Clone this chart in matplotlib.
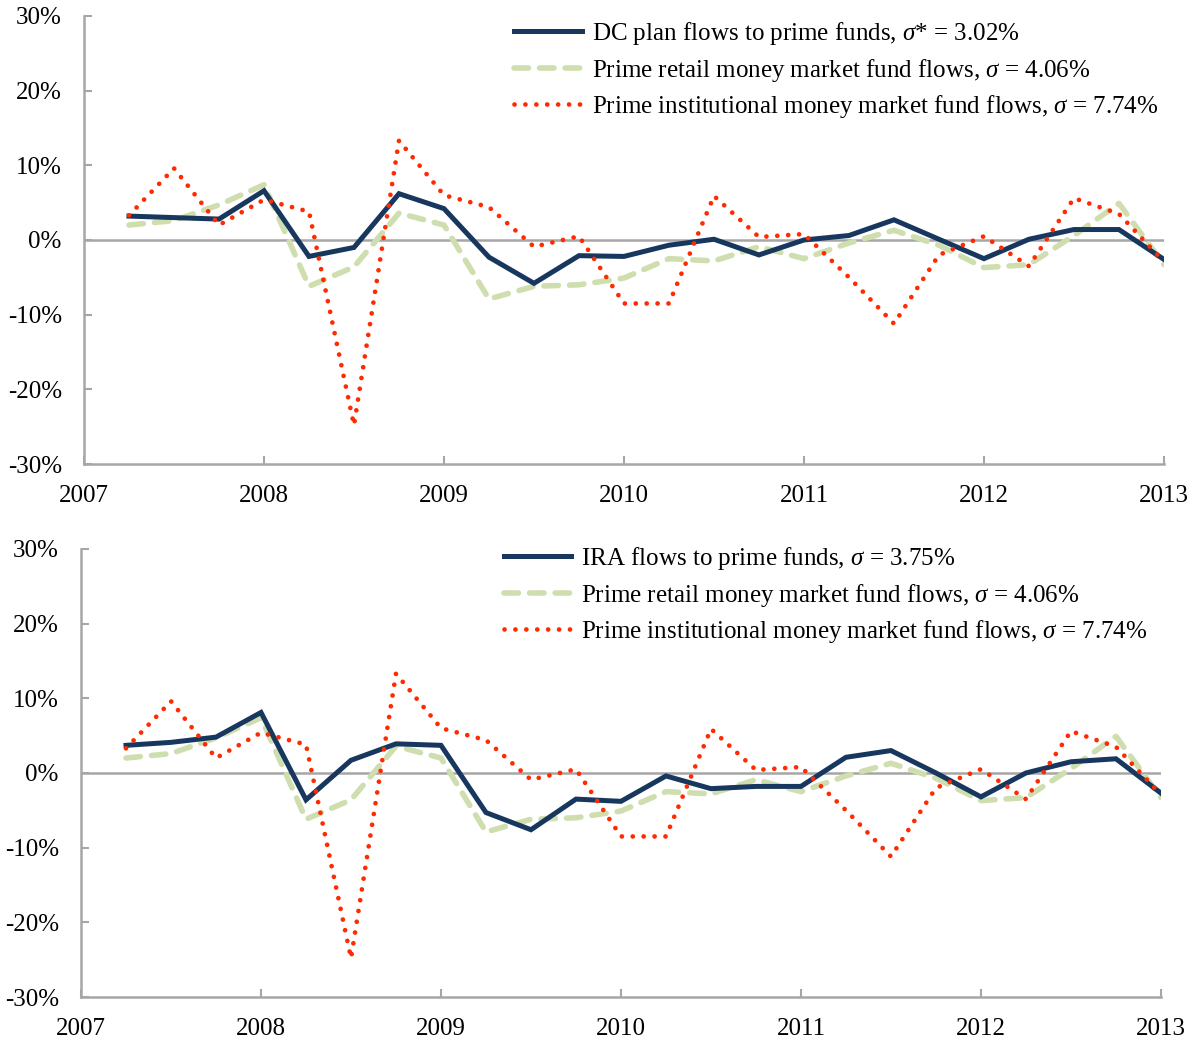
import matplotlib
matplotlib.use("Agg")
import matplotlib.pyplot as plt

plt.rcParams['font.family'] = ['Liberation Serif', 'DejaVu Serif']
plt.rcParams['mathtext.fontset'] = 'custom'
plt.rcParams['mathtext.rm'] = 'Liberation Serif'
plt.rcParams['mathtext.it'] = 'Liberation Serif:italic'

# trimestres 2007T2 .. 2013T1
fechas = [2007.25, 2007.5, 2007.75, 2008.0, 2008.25, 2008.5, 2008.75, 2009.0,
          2009.25, 2009.5, 2009.75, 2010.0, 2010.25, 2010.5, 2010.75, 2011.0,
          2011.25, 2011.5, 2011.75, 2012.0, 2012.25, 2012.5, 2012.75, 2013.0]

dc_flujos = [3.2, 3.0, 2.8, 6.6, -2.2, -1.0, 6.2, 4.2,
             -2.3, -5.8, -2.1, -2.2, -0.7, 0.1, -2.0, 0.0,
             0.6, 2.7, 0.1, -2.5, 0.1, 1.4, 1.4, -2.6]

ira_flujos = [3.7, 4.1, 4.8, 8.1, -3.6, 1.7, 3.9, 3.7,
              -5.3, -7.6, -3.5, -3.8, -0.4, -2.1, -1.8, -1.8,
              2.1, 3.0, 0.0, -3.2, 0.0, 1.5, 1.9, -2.7]

retail = [2.0, 2.6, 4.7, 7.4, -6.2, -3.6, 3.6, 2.0,
          -7.9, -6.2, -6.0, -5.1, -2.5, -2.8, -0.9, -2.5,
          -0.4, 1.3, -0.7, -3.7, -3.3, 0.6, 4.9, -3.3]

institucional = [3.3, 9.6, 2.0, 5.4, 3.8, -24.8, 13.3, 6.0,
                 4.4, -0.9, 0.5, -8.5, -8.5, 5.9, 0.4, 0.8,
                 -5.0, -11.2, -2.0, 0.5, -3.5, 5.6, 3.5, -2.9]

anios = [2007, 2008, 2009, 2010, 2011, 2012, 2013]
yticks = [-30, -20, -10, 0, 10, 20, 30]

etiqueta_dc = r'DC plan flows to prime funds, $\sigma$* = 3.02%'
etiqueta_ira = r'IRA flows to prime funds, $\sigma$ = 3.75%'
etiqueta_retail = r'Prime retail money market fund flows, $\sigma$ = 4.06%'
etiqueta_inst = r'Prime institutional money market fund flows, $\sigma$ = 7.74%'

NAVY = '#17375e'
VERDE = '#cfdeae'
ROJO = '#ff2a00'
GRIS = '#a6a6a6'


def dibujar(ax, serie, etiqueta, bbox):
    ax.plot(fechas, serie, color=NAVY, lw=3.6, label=etiqueta,
            solid_joinstyle='miter', zorder=3)
    ax.plot(fechas, retail, color=VERDE, lw=4.0, dashes=(2.6, 2.0),
            dash_capstyle='round', label=etiqueta_retail, zorder=2)
    ax.plot(fechas, institucional, color=ROJO, lw=3.4, dashes=(0.01, 2.3),
            dash_capstyle='round', label=etiqueta_inst, zorder=4)
    ax.axhline(0, color=GRIS, lw=1.8, zorder=1)
    ax.set_xlim(2007, 2013)
    ax.set_ylim(-30, 30)
    ax.set_xticks(anios)
    ax.set_yticks(yticks)
    ax.set_yticklabels([f'{v}%' for v in yticks])
    for lado in ['top', 'right']:
        ax.spines[lado].set_visible(False)
    for lado in ['left', 'bottom']:
        ax.spines[lado].set_color(GRIS)
        ax.spines[lado].set_linewidth(1.8)
    ax.tick_params(axis='both', direction='in', length=6, width=1.5,
                   color=GRIS, labelsize=18)
    ax.tick_params(axis='x', pad=15)
    ax.tick_params(axis='y', pad=16)
    ax.legend(loc='upper right', bbox_to_anchor=bbox, frameon=False,
              fontsize=18, handlelength=2.7, handletextpad=0.4,
              labelspacing=0.38, borderaxespad=0)


fig = plt.figure(figsize=(11.95, 10.43), dpi=100)
ax1 = fig.add_axes([0.0703, 0.5551, 0.9037, 0.4296])
ax2 = fig.add_axes([0.0678, 0.0441, 0.9037, 0.4296])

dibujar(ax1, dc_flujos, etiqueta_dc, (1.004, 1.013))
dibujar(ax2, ira_flujos, etiqueta_ira, (0.997, 1.031))

fig.savefig('out.png', dpi=100)
